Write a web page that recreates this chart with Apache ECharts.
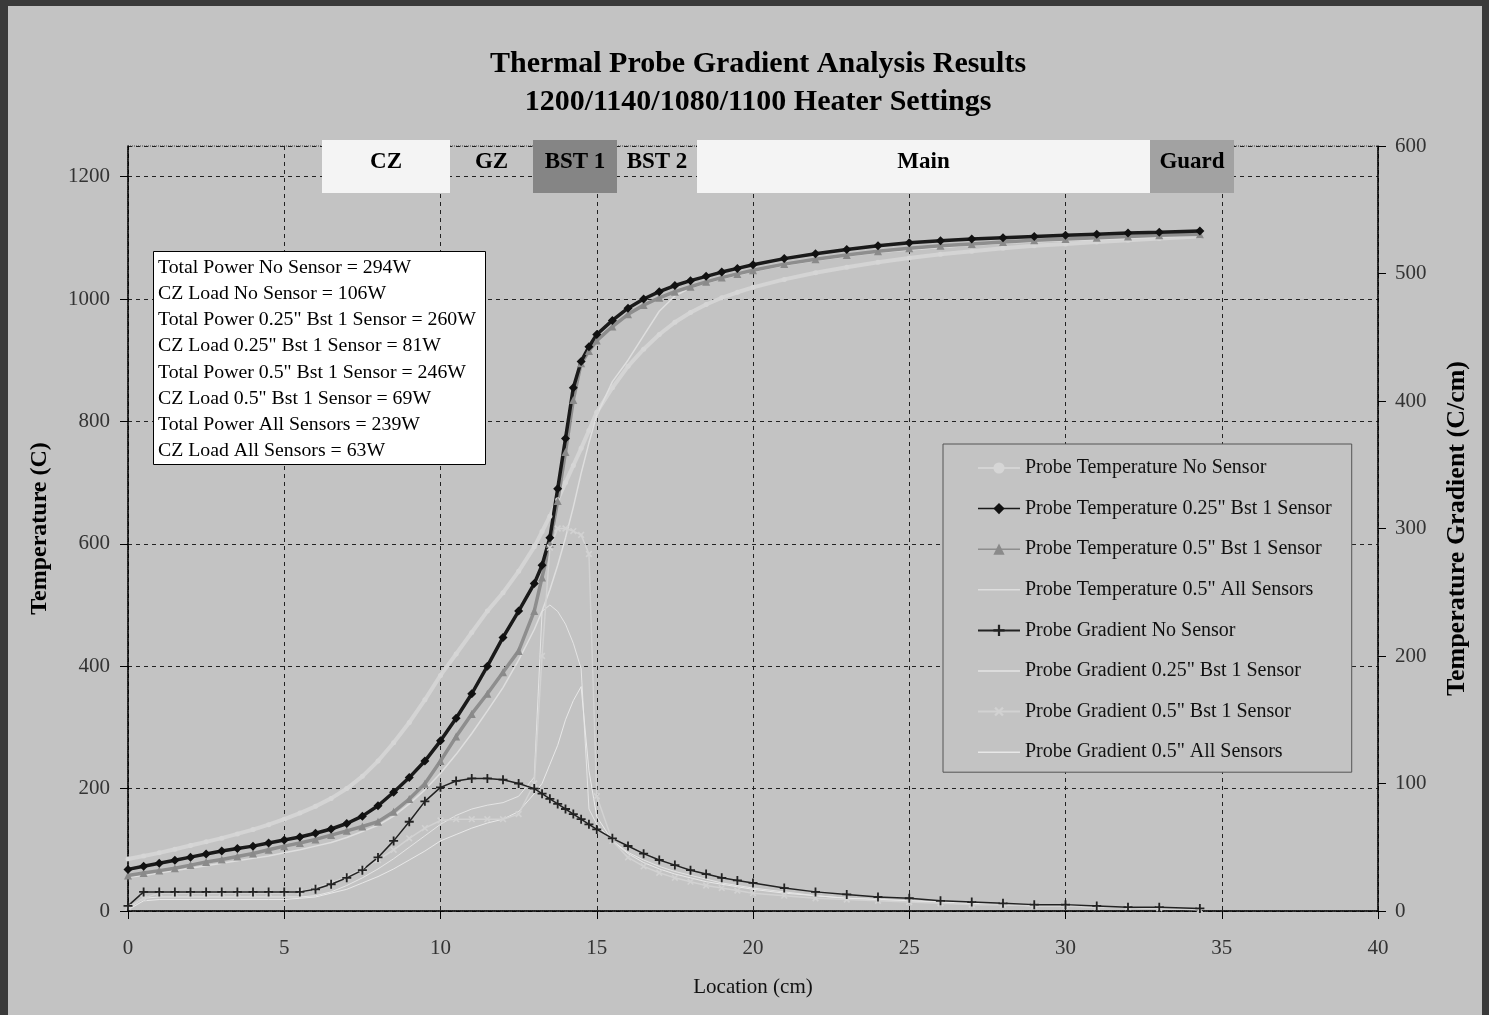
<!DOCTYPE html>
<html>
<head>
<meta charset="utf-8">
<title>Thermal Probe Gradient Analysis Results</title>
<script src="https://cdn.jsdelivr.net/npm/echarts@6.0.0/dist/echarts.min.js"></script>
<style>
  html, body { margin: 0; padding: 0; background: #c3c3c3; }
  #chart { width: 1489px; height: 1015px; }
</style>
</head>
<body>
<div id="chart"></div>
<script>
// location along the probe (cm)
const loc = [0, 0.5, 1, 1.5, 2, 2.5, 3, 3.5, 4, 4.5, 5, 5.5, 6, 6.5, 7, 7.5, 8, 8.5, 9, 9.5,
  10, 10.5, 11, 11.5, 12, 12.5, 13, 13.25, 13.5, 13.75, 14, 14.25, 14.5, 14.75, 15, 15.5, 16, 16.5, 17, 17.5,
  18, 18.5, 19, 19.5, 20, 21, 22, 23, 24, 25, 26, 27, 28, 29, 30, 31, 32, 33, 34.3]

// probe temperature (C), left axis
const tempNone = [85, 90, 95, 101, 107, 113, 119, 126, 133, 141, 150, 160, 171, 184, 200, 220, 245, 275, 308, 345,
  385, 420, 455, 490, 520, 555, 595, 620, 645, 672, 700, 728, 756, 785, 815, 855, 890, 918, 942, 962,
  978, 991, 1002, 1011, 1019, 1032, 1043, 1052, 1060, 1067, 1073, 1078, 1083, 1087, 1090, 1093, 1096, 1099, 1102]
const tempB025 = [68, 73, 78, 83, 88, 93, 98, 102, 106, 111, 116, 121, 127, 134, 143, 155, 172, 194, 218, 245,
  278, 315, 355, 400, 447, 490, 535, 565, 610, 690, 772, 855, 898, 922, 942, 965, 985, 1000, 1012, 1022,
  1030, 1037, 1044, 1050, 1056, 1066, 1074, 1081, 1087, 1092, 1095, 1098, 1100, 1102, 1104, 1106, 1108, 1109, 1111]
const tempB05 = [58, 62, 66, 70, 75, 80, 84, 89, 94, 100, 106, 111, 117, 124, 131, 138, 146, 162, 183, 208,
  245, 285, 322, 355, 390, 425, 490, 545, 600, 670, 750, 835, 895, 915, 932, 955, 975, 990, 1002, 1012,
  1020, 1028, 1035, 1041, 1047, 1057, 1065, 1072, 1078, 1083, 1087, 1090, 1093, 1096, 1098, 1100, 1102, 1104, 1106]
const tempAll = [55, 58, 62, 66, 70, 74, 78, 82, 86, 90, 95, 100, 106, 112, 120, 130, 140, 155, 175, 198,
  225, 256, 290, 327, 365, 410, 460, 490, 525, 565, 610, 660, 715, 765, 810, 865, 900, 940, 980, 1005,
  1018, 1026, 1033, 1039, 1045, 1055, 1063, 1070, 1076, 1080, 1084, 1088, 1091, 1093, 1095, 1097, 1099, 1101, 1104]

// probe gradient (C/cm), right axis
const gradNone = [4, 15, 15, 15, 15, 15, 15, 15, 15, 15, 15, 15, 17, 21, 26, 32, 42, 55, 70, 86,
  97, 102, 104, 104, 103, 100, 96, 92, 88, 84, 80, 76, 72, 68, 64, 57, 51, 45, 40, 36,
  32, 29, 26, 24, 22, 18, 15, 13, 11, 10, 8, 7, 6, 5, 5, 4, 3, 3, 2]
const gradB025 = [2, 10, 11, 11, 11, 11, 11, 11, 11, 11, 11, 11, 12, 15, 20, 26, 33, 41, 50, 59,
  68, 75, 80, 83, 85, 90, 105, 235, 240, 235, 225, 210, 190, 80, 68, 55, 46, 40, 35, 31,
  28, 25, 22, 20, 18, 15, 12, 10, 9, 8, 7, 6, 5, 4, 4, 3, 3, 2, 1]
const gradB05 = [3, 10, 14, 14, 14, 14, 14, 14, 14, 14, 14, 15, 18, 22, 27, 33, 40, 48, 57, 65,
  71, 72, 72, 72, 72, 76, 100, 200, 285, 300, 300, 298, 295, 280, 90, 55, 42, 35, 30, 26,
  23, 20, 18, 16, 14, 12, 10, 9, 8, 7, 6, 5, 5, 4, 4, 3, 3, 2, 1]
const gradAll = [1, 8, 9, 9, 9, 9, 9, 9, 9, 9, 9, 10, 11, 14, 17, 22, 27, 33, 40, 47,
  55, 60, 65, 69, 72, 78, 92, 100, 115, 130, 150, 165, 176, 110, 74, 55, 45, 38, 33, 29,
  26, 23, 21, 19, 17, 14, 12, 10, 9, 8, 7, 6, 5, 4, 4, 3, 3, 2, 1]

const powerNotes = [
  'Total Power No Sensor = 294W',
  'CZ Load No Sensor = 106W',
  'Total Power 0.25" Bst 1 Sensor = 260W',
  'CZ Load 0.25" Bst 1 Sensor = 81W',
  'Total Power 0.5" Bst 1 Sensor = 246W',
  'CZ Load 0.5" Bst 1 Sensor = 69W',
  'Total Power All Sensors = 239W',
  'CZ Load All Sensors = 63W'
]

// heater zones across the top of the plot
const zones = [
  { name: 'CZ', x0: 322, x1: 450, fill: '#f4f4f4' },
  { name: 'GZ', x0: 450, x1: 533, fill: null },
  { name: 'BST 1', x0: 533, x1: 617, fill: '#858585' },
  { name: 'BST 2', x0: 617, x1: 697, fill: null },
  { name: 'Main', x0: 697, x1: 1150, fill: '#f4f4f4' },
  { name: 'Guard', x0: 1150, x1: 1234, fill: '#a2a2a2' }
]

const serif = '"Liberation Serif", "Times New Roman", serif'
const BG = '#c3c3c3'
const pts = arr => loc.map((x, i) => [x, arr[i]])
const plus = 'path://M4,0 H6 V4 H10 V6 H6 V10 H4 V6 H0 V4 H4 Z'
// plain short line for legend entries of series drawn without markers
const lineIcon = 'path://M0,0 M42,14 M0,6.25 H42 V7.75 H0 Z'

const chart = echarts.init(document.getElementById('chart'))

const graphic = [
  // dark frame
  { type: 'rect', shape: { x: 0, y: 0, width: 8, height: 1015 }, style: { fill: '#3a3a3a' }, z: 200 },
  { type: 'rect', shape: { x: 0, y: 0, width: 1489, height: 6 }, style: { fill: '#3a3a3a' }, z: 200 },
  { type: 'rect', shape: { x: 1482, y: 0, width: 7, height: 1015 }, style: { fill: '#3a3a3a' }, z: 200 },
  // title
  { type: 'text', x: 758, y: 64, z: 100,
    style: { text: 'Thermal Probe Gradient Analysis Results', font: 'bold 30px ' + serif, fill: '#000', align: 'center', verticalAlign: 'middle' } },
  { type: 'text', x: 758, y: 102, z: 100,
    style: { text: '1200/1140/1080/1100 Heater Settings', font: 'bold 30px ' + serif, fill: '#000', align: 'center', verticalAlign: 'middle' } },
  // power notes box
  { type: 'rect', shape: { x: 153.5, y: 251.5, width: 332, height: 213 }, style: { fill: '#fff', stroke: '#000', lineWidth: 1 }, z: 100 }
]
powerNotes.forEach((t, i) => {
  graphic.push({ type: 'text', x: 158, y: 268 + i * 26.1, z: 101,
    style: { text: t, font: '19.8px ' + serif, fill: '#000', verticalAlign: 'middle' } })
})
zones.forEach(zn => {
  if (zn.fill) {
    graphic.push({ type: 'rect', shape: { x: zn.x0, y: 140, width: zn.x1 - zn.x0, height: 53 }, style: { fill: zn.fill }, z: 100 })
  }
  graphic.push({ type: 'text', x: (zn.x0 + zn.x1) / 2, y: 162, z: 101,
    style: { text: zn.name, font: 'bold 23px ' + serif, fill: '#000', align: 'center', verticalAlign: 'middle' } })
})

chart.setOption({
  animation: false,
  backgroundColor: BG,
  textStyle: { fontFamily: serif },
  grid: {
    left: 128, right: 111, top: 146, bottom: 104,
    show: true, borderColor: '#444', borderWidth: 1, borderType: 'dotted'
  },
  legend: {
    orient: 'vertical',
    left: 943,
    top: 444,
    padding: [14, 20, 10, 34],
    itemWidth: 42,
    itemHeight: 14,
    itemGap: 20.6,
    backgroundColor: BG,
    borderColor: '#555',
    borderWidth: 1,
    textStyle: { fontSize: 20, color: '#111', fontFamily: serif },
    data: [
      { name: 'Probe Temperature No Sensor' },
      { name: 'Probe Temperature 0.25" Bst 1 Sensor', lineStyle: { width: 1.5 } },
      { name: 'Probe Temperature 0.5" Bst 1 Sensor', lineStyle: { width: 1.5 } },
      { name: 'Probe Temperature 0.5" All Sensors', icon: lineIcon },
      { name: 'Probe Gradient No Sensor' },
      { name: 'Probe Gradient 0.25" Bst 1 Sensor', icon: lineIcon },
      { name: 'Probe Gradient 0.5" Bst 1 Sensor' },
      { name: 'Probe Gradient 0.5" All Sensors', icon: lineIcon }
    ]
  },
  xAxis: {
    type: 'value',
    min: 0,
    max: 40,
    interval: 5,
    name: 'Location (cm)',
    nameLocation: 'middle',
    nameGap: 66,
    nameTextStyle: { fontSize: 21, color: '#111', fontFamily: serif },
    axisLine: { lineStyle: { color: '#000', width: 1.5 } },
    axisTick: { length: 8, lineStyle: { color: '#000' } },
    axisLabel: { fontSize: 21, color: '#333', margin: 27, fontFamily: serif },
    splitLine: { show: true, lineStyle: { color: '#222', type: [4, 4], width: 1 } }
  },
  yAxis: [
    {
      type: 'value',
      min: 0,
      max: 1250,
      interval: 200,
      name: 'Temperature (C)',
      nameLocation: 'middle',
      nameGap: 76,
      nameTextStyle: { fontSize: 24, fontWeight: 'bold', color: '#000', fontFamily: serif },
      axisLine: { show: true, lineStyle: { color: '#000', width: 1.5 } },
      axisTick: { show: true, length: 8, lineStyle: { color: '#000' } },
      axisLabel: { fontSize: 21, color: '#333', margin: 18, showMaxLabel: false, fontFamily: serif, formatter: v => String(v) },
      splitLine: { show: true, lineStyle: { color: '#222', type: [4, 4], width: 1 } }
    },
    {
      type: 'value',
      position: 'right',
      min: 0,
      max: 600,
      interval: 100,
      name: 'Temperature Gradient (C/cm)',
      nameLocation: 'middle',
      nameGap: 66,
      nameRotate: 90,
      nameTextStyle: { fontSize: 26, fontWeight: 'bold', color: '#000', fontFamily: serif },
      axisLine: { show: true, lineStyle: { color: '#000', width: 1.5 } },
      axisTick: { show: true, length: 8, lineStyle: { color: '#000' } },
      axisLabel: { fontSize: 21, color: '#333', margin: 17, fontFamily: serif, formatter: v => String(v) },
      splitLine: { show: false }
    }
  ],
  graphic: graphic,
  series: [
    {
      name: 'Probe Temperature No Sensor',
      type: 'line',
      yAxisIndex: 0,
      data: pts(tempNone),
      symbol: 'circle',
      symbolSize: 5,
      color: '#d6d6d6',
      lineStyle: { width: 4, color: '#d4d4d4' }
    },
    {
      name: 'Probe Temperature 0.5" All Sensors',
      type: 'line',
      yAxisIndex: 0,
      data: pts(tempAll),
      symbol: 'none',
      color: '#dedede',
      lineStyle: { width: 1.5, color: '#dedede' }
    },
    {
      name: 'Probe Temperature 0.5" Bst 1 Sensor',
      type: 'line',
      yAxisIndex: 0,
      data: pts(tempB05),
      symbol: 'triangle',
      symbolSize: 8,
      color: '#8a8a8a',
      lineStyle: { width: 3.5, color: '#8e8e8e' }
    },
    {
      name: 'Probe Temperature 0.25" Bst 1 Sensor',
      type: 'line',
      yAxisIndex: 0,
      data: pts(tempB025),
      symbol: 'diamond',
      symbolSize: 9,
      color: '#111',
      lineStyle: { width: 3.5, color: '#1a1a1a' }
    },
    {
      name: 'Probe Gradient 0.25" Bst 1 Sensor',
      type: 'line',
      yAxisIndex: 1,
      data: pts(gradB025),
      symbol: 'none',
      color: '#e4e4e4',
      lineStyle: { width: 1, color: '#e4e4e4' }
    },
    {
      name: 'Probe Gradient 0.5" All Sensors',
      type: 'line',
      yAxisIndex: 1,
      data: pts(gradAll),
      symbol: 'none',
      color: '#e8e8e8',
      lineStyle: { width: 1, color: '#e8e8e8' }
    },
    {
      name: 'Probe Gradient 0.5" Bst 1 Sensor',
      type: 'line',
      yAxisIndex: 1,
      data: pts(gradB05),
      symbol: plus,
      symbolRotate: 45,
      symbolSize: 8,
      color: '#d2d2d2',
      lineStyle: { width: 1.5, color: '#d2d2d2' }
    },
    {
      name: 'Probe Gradient No Sensor',
      type: 'line',
      yAxisIndex: 1,
      data: pts(gradNone),
      symbol: plus,
      symbolSize: 9,
      color: '#222',
      lineStyle: { width: 1.5, color: '#222' }
    }
  ]
})
</script>
</body>
</html>
